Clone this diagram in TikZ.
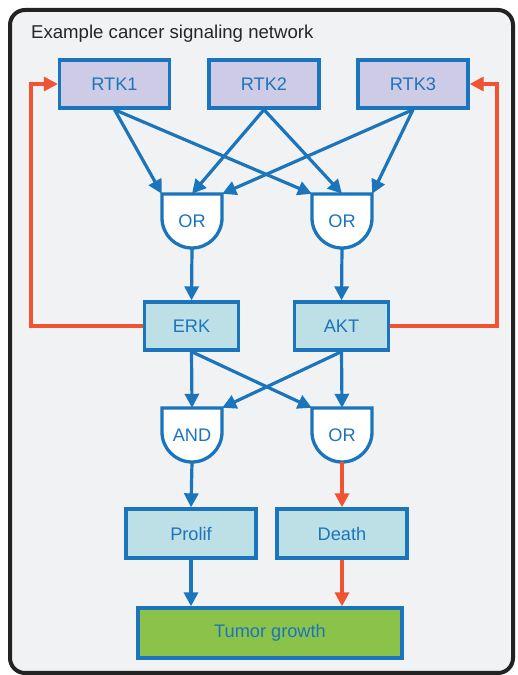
\documentclass[tikz,border=0pt]{standalone}
\usepackage{fontspec}
\setmainfont{Liberation Sans}
\usetikzlibrary{arrows.meta, positioning}
\definecolor{sigblue}{RGB}{27,117,188}
\definecolor{rtkfill}{RGB}{205,203,230}
\definecolor{kinfill}{RGB}{189,224,230}
\definecolor{growfill}{RGB}{139,195,74}
\definecolor{fbred}{RGB}{240,82,50}
\definecolor{panelfill}{RGB}{241,242,244}
\definecolor{panelline}{RGB}{35,35,35}

% logic gate: outline first, then the named node on top
\newcommand{\gatenode}[4]{%
  \filldraw[draw=sigblue, fill=white, line width=3.3pt]
    (#2-30,#3+27) -- (#2-30,#3+3) arc[start angle=180, end angle=360, radius=30]
    -- (#2+30,#3+27) -- cycle;
  \node[gate] (#1) at (#2,#3) {#4};}

\begin{document}
\begin{tikzpicture}[
    x=1pt, y=1pt,
    font=\fontsize{18.2}{21}\selectfont,
    receptor/.style={rectangle, draw=sigblue, fill=rtkfill, line width=3.3pt, text=sigblue, minimum width=110pt, minimum height=48pt},
    kinase/.style={rectangle, draw=sigblue, fill=kinfill, line width=3.3pt, text=sigblue, minimum width=94pt, minimum height=48pt},
    fate/.style={kinase, minimum width=130pt, minimum height=49pt},
    growth/.style={rectangle, draw=sigblue, fill=growfill, line width=3.3pt, text=sigblue, minimum width=264pt, minimum height=50pt},
    gate/.style={rectangle, text=sigblue, minimum width=60pt, minimum height=54pt, inner sep=0pt},
    arrow/.style={-{Triangle[length=14pt, width=14pt]}, line width=3.2pt, color=sigblue},
    feedback/.style={arrow, color=fbred}
]
\useasboundingbox (0,0) rectangle (517,675);

% Panel
\draw[panelline, fill=panelfill, line width=4pt, rounded corners=15pt] (10,2) rectangle (513,665);
\node[anchor=west, inner sep=0pt, text=black!85, font=\fontsize{18.6}{21}\selectfont] (title) at (31,641) {Example cancer signaling network};

% Receptors
\node[receptor] (rtk1) at (114.5,591) {RTK1};
\node[receptor] (rtk2) at (264,591) {RTK2};
\node[receptor] (rtk3) at (413,591) {RTK3};

% First gate layer
\gatenode{or1}{192}{454}{OR}
\gatenode{or2}{342}{454}{OR}

% Kinases
\node[kinase] (erk) at (191.5,349) {ERK};
\node[kinase] (akt) at (341.5,349) {AKT};

% Second gate layer
\gatenode{and3}{192}{240}{AND}
\gatenode{or3}{342}{240}{OR}

% Cell fates
\node[fate] (prolif) at (191,141.5) {Prolif};
\node[fate] (death) at (342,141.5) {Death};
\node[growth] (tumor) at (270,42) {Tumor growth};

% Receptor inputs
\draw[arrow] (rtk1.south) -- (or1.north west);
\draw[arrow] (rtk1.south) -- (or2.north west);
\draw[arrow] (rtk2.south) -- (or1.north);
\draw[arrow] (rtk2.south) -- (or2.north);
\draw[arrow] (rtk3.south) -- (or1.north east);
\draw[arrow] (rtk3.south) -- (or2.north east);

\draw[arrow] (or1.south) -- (erk.north);
\draw[arrow] (or2.south) -- (akt.north);

% Kinase inputs
\draw[arrow] (erk.south) -- (and3.north);
\draw[arrow] (erk.south) -- (or3.north west);
\draw[arrow] (akt.south) -- (and3.north east);
\draw[arrow] (akt.south) -- (or3.north);

\draw[arrow] (and3.south) -- (prolif.north);
\draw[feedback] (or3.south) -- (death.north);
\draw[arrow] (prolif.south) -- (prolif.south |- tumor.north);
\draw[feedback] (death.south) -- (death.south |- tumor.north);

% Feedback loops
\coordinate (fbleft) at (31,349);
\coordinate (fbright) at (497,349);
\draw[feedback] (erk.west) -- (fbleft) |- (rtk1.west);
\draw[feedback] (akt.east) -- (fbright) |- (rtk3.east);

\end{tikzpicture}
\end{document}
